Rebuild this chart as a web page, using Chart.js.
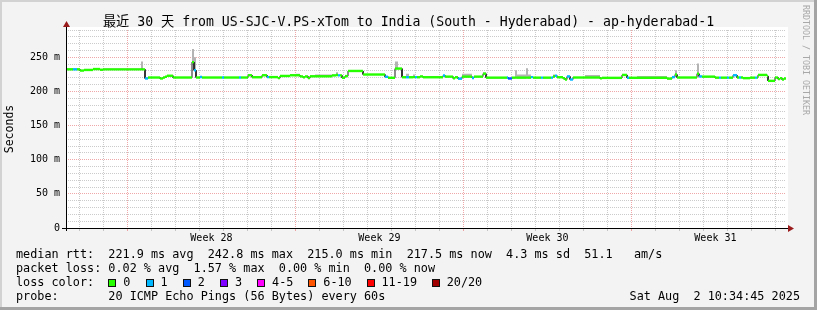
<!DOCTYPE html>
<html>
<head>
<meta charset="utf-8">
<script src="https://cdn.jsdelivr.net/npm/chart.js@4.4.1/dist/chart.umd.min.js"></script>
<style>
  html, body { margin: 0; padding: 0; background: #f3f3f3; }
  #wrap { position: relative; width: 817px; height: 310px; overflow: hidden; font-family: "DejaVu Sans Mono", monospace; color: #000; }
  canvas { position: absolute; left: 0; top: 0; }
  .row { position: absolute; left: 16px; white-space: pre; font-size: 11.8px; line-height: 14px; }
  #title { position: absolute; left: 0; width: 817px; top: 14px; text-align: center; white-space: pre; font-size: 13.2px; line-height: 16px; font-family: "DejaVu Sans Mono", "Noto Sans CJK SC", monospace; }
  #brand { position: absolute; left: 801px; top: 5px; writing-mode: vertical-rl; font-size: 8.3px; line-height: 10px; color: #a8a8a8; white-space: pre; }
  #stamp { position: absolute; right: 17px; top: 289px; white-space: pre; font-size: 11.8px; line-height: 14px; }
  .lbox { position: absolute; width: 6px; height: 6px; border: 1px solid #111; }
  .ltxt { position: absolute; white-space: pre; font-size: 11.8px; line-height: 14px; }
</style>
</head>
<body>
<div id="wrap">
  <canvas id="c" width="817" height="310"></canvas>
  <div id="title"></div>
  <div id="brand">RRDTOOL / TOBI OETIKER</div>
  <div class="row" id="r1" style="top:247px"></div>
  <div class="row" id="r2" style="top:261px"></div>
  <div class="row" id="r3" style="top:275px">loss color:</div>
  <div class="row" id="r4" style="top:289px"></div>
  <div id="stamp"></div>
</div>
<script>
// 30 days ending Sat Aug 2 10:34:45 2025, x in hours from start
const SPAN_HRS = 720;
const titleText = '最近 30 天 from US-SJC-V.PS-xTom to India (South - Hyderabad) - ap-hyderabad-1';

// week labels sit mid-week; weeks begin Sundays 00:00
const weekLabels = ['Week 28', 'Week 29', 'Week 30', 'Week 31'];
const weekStartHrs = [61.42, 229.42, 397.42, 565.42];
const firstMidnightHr = 13.42;

// median rtt (ms), step segments
const segStartHrs = [
  0, 7, 11, 14, 18, 27, 34, 37, 75, 77, 79, 82, 94, 97, 99, 101, 107, 126, 128, 130,
  134, 136, 156, 158, 173, 175, 182, 186, 196, 201, 203, 212, 214, 224, 230, 234, 237, 239, 242, 244,
  249, 266, 270, 272, 274, 276, 279, 282, 297, 319, 322, 329, 332, 336, 340, 343, 347, 349, 351, 354,
  357, 377, 379, 387, 389, 392, 396, 406, 408, 417, 420, 441, 442, 446, 449, 451, 460, 462, 465, 467,
  475, 477, 485, 487, 489, 491, 497, 499, 501, 504, 507, 519, 534, 536, 556, 561, 563, 571, 601, 606,
  609, 611, 631, 633, 636, 649, 653, 655, 661, 663, 667, 671, 673, 675, 677, 684, 689, 691, 692, 701,
  702, 709, 712, 714, 716, 718
];
const medianMs = [
  232.4, 232.4, 232.4, 230.6, 231.5, 232.8, 231.8, 232.4, 232.4, 232.4, 219, 220.4, 219, 220.4, 221.5, 223, 220.4, 243, 231, 220.4,
  221.2, 220.4, 220.4, 220.4, 220.4, 220.4, 223.7, 220.8, 223.7, 221, 221, 219.5, 222.7, 223.7, 223.7, 222, 220.8, 222, 219.5, 222.2,
  222.2, 223.5, 224, 223.5, 223.5, 220, 222.5, 230, 224.8, 221.5, 220, 233.5, 233.5, 220.8, 220.8, 220.8, 221, 221, 220.8, 222,
  220.8, 223.3, 221.7, 219.3, 220.8, 218.7, 221.7, 219.8, 221.7, 226, 220.2, 220.5, 219, 220.2, 220.2, 220.2, 220.2, 220.2, 221, 220.2,
  220.2, 220.2, 220.2, 222, 223, 220.8, 219.3, 217.5, 222, 217.5, 220.4, 220.4, 219.2, 219.9, 224.2, 220, 220, 220, 218.8, 221,
  224.8, 220.4, 226, 222, 221.7, 220.2, 220.2, 220.2, 220.2, 220.2, 223.7, 220.4, 220.4, 220.4, 219.5, 220.2, 220.2, 220.4, 224.2, 222.7,
  215.5, 220.4, 218, 219.5, 217.5, 219
];
// lost pings (of 20) per segment
const lossPings = [
  0, 1, 0, 0, 0, 0, 0, 0, 0, 0, 1, 0, 0, 0, 0, 0, 0, 0, 1, 0,
  1, 0, 1, 0, 1, 0, 0, 0, 0, 1, 0, 0, 0, 0, 0, 0, 0, 0, 0, 0,
  0, 0, 0, 1, 0, 0, 0, 0, 0, 1, 0, 0, 0, 0, 1, 0, 0, 1, 0, 0,
  0, 1, 0, 0, 0, 1, 0, 1, 0, 0, 0, 1, 2, 0, 0, 0, 0, 0, 1, 0,
  1, 0, 1, 0, 1, 0, 0, 0, 1, 1, 0, 0, 0, 0, 0, 1, 0, 0, 0, 1,
  0, 0, 0, 1, 0, 0, 1, 0, 1, 0, 1, 0, 1, 0, 0, 0, 1, 0, 0, 0,
  0, 0, 0, 0, 0, 0
];
// top of the smoke (max rtt) where it shows above the median
const smokeMs = {75: 244, 126: 262, 128: 250, 230: 226, 249: 225, 270: 228, 329: 244, 340: 226, 347: 225,
  396: 226, 417: 228, 449: 231, 451: 224.7, 460: 234, 462: 224.7, 487: 225, 519: 224, 571: 222.8, 609: 231, 631: 241};

const lossLabels = ['0', '1', '2', '3', '4-5', '6-10', '11-19', '20/20'];
const lossColors = ['#26ff00', '#00b8ff', '#0059ff', '#7e00ff', '#ff00ff', '#ff5500', '#ff0000', '#a10000'];
const lossFloor = [0, 1, 2, 3, 4, 6, 11, 20];

const rttStats = ['221.9 ms avg', '242.8 ms max', '215.0 ms min', '217.5 ms now', '4.3 ms sd', '51.1   am/s'];
const lossStats = ['0.02 % avg', '1.57 % max', '0.00 % min', '0.00 % now'];
const probeText = '20 ICMP Echo Pings (56 Bytes) every 60s';
const stampText = 'Sat Aug  2 10:34:45 2025';

const MONO = '"DejaVu Sans Mono", monospace';

function lossColor(n) {
  let k = 0;
  lossFloor.forEach((f, i) => { if (n >= f) k = i; });
  return lossColors[k];
}

// each segment becomes two points so the steps are plain line segments
const medPts = [], smokePts = [];
segStartHrs.forEach((a, i) => {
  const b = i + 1 < segStartHrs.length ? segStartHrs[i + 1] : SPAN_HRS;
  const top = smokeMs[a] !== undefined ? smokeMs[a] : medianMs[i];
  medPts.push({x: a, y: medianMs[i]}, {x: b, y: medianMs[i]});
  smokePts.push({x: a, y: top}, {x: b, y: top});
});

const xTicks = [];
for (let h = firstMidnightHr; h < SPAN_HRS; h += 24) xTicks.push(h);
weekStartHrs.forEach(w => xTicks.push(w + 84));
xTicks.sort((a, b) => a - b);

const near = (a, b) => Math.abs(a - b) < 0.01;
const isWeekMid = v => weekStartHrs.some(w => near(v, w + 84));
const isWeekStart = v => weekStartHrs.some(w => near(v, w));
const MINOR = 'rgba(140,140,140,0.45)';
const MAJOR = 'rgba(225,80,80,0.5)';

const frame = {
  id: 'frame',
  beforeDraw(c) {
    const g = c.ctx, a = c.chartArea;
    g.save();
    g.fillStyle = '#f3f3f3';
    g.fillRect(0, 0, c.width, c.height);
    g.fillStyle = '#ffffff';
    g.fillRect(a.left, a.top - 3, a.right - a.left + 2, a.bottom - a.top + 3);
    g.fillStyle = '#d2d2d2';
    g.fillRect(0, 0, c.width, 2);
    g.fillRect(0, 0, 2, c.height);
    g.fillStyle = '#a4a4a4';
    g.fillRect(0, c.height - 3, c.width, 3);
    g.fillRect(c.width - 3, 0, 3, c.height);
    g.restore();
  },
  afterDraw(c) {
    const g = c.ctx, a = c.chartArea;
    g.save();
    g.strokeStyle = '#000';
    g.lineWidth = 1;
    g.beginPath();
    g.moveTo(a.left - 4, a.bottom + 0.5); g.lineTo(a.right + 2, a.bottom + 0.5);
    g.moveTo(a.left + 0.5, a.bottom + 3); g.lineTo(a.left + 0.5, a.top - 5);
    g.stroke();
    g.fillStyle = '#9b1c1c';
    g.beginPath();
    g.moveTo(a.right + 8, a.bottom + 0.5); g.lineTo(a.right + 2, a.bottom - 3); g.lineTo(a.right + 2, a.bottom + 4);
    g.closePath(); g.fill();
    g.beginPath();
    g.moveTo(a.left + 0.5, a.top - 9); g.lineTo(a.left - 3, a.top - 3); g.lineTo(a.left + 4, a.top - 3);
    g.closePath(); g.fill();
    g.restore();
  }
};

new Chart(document.getElementById('c'), {
  type: 'line',
  data: {
    datasets: [
      {
        label: 'median', data: medPts, order: 1, borderWidth: 2.4, pointRadius: 0, borderCapStyle: 'butt',
        borderColor: lossColors[0],
        segment: {
          borderColor: ctx => ctx.p0DataIndex % 2 ? 'rgba(0,0,0,0)' : lossColor(lossPings[ctx.p0DataIndex >> 1])
        }
      },
      { label: 'median base', data: medPts, order: 2, borderWidth: 1, pointRadius: 0, borderColor: '#1a1a1a' },
      { label: 'smoke', data: smokePts, order: 3, borderWidth: 0, pointRadius: 0, borderColor: 'rgba(0,0,0,0)',
        backgroundColor: '#b4b4b4', fill: 1 }
    ]
  },
  options: {
    responsive: false,
    animation: false,
    events: [],
    layout: { padding: { left: 0, right: 31, top: 30, bottom: 0 } },
    plugins: { legend: { display: false }, tooltip: { enabled: false } },
    scales: {
      x: {
        type: 'linear', min: 0, max: SPAN_HRS,
        afterBuildTicks: ax => { ax.ticks = xTicks.map(v => ({ value: v })); },
        afterFit: s => { s.height = 82; },
        ticks: {
          autoSkip: false, maxRotation: 0, padding: 1, color: '#000',
          font: { family: MONO, size: 10 },
          callback: v => {
            const i = weekStartHrs.findIndex(w => near(v, w + 84));
            return i >= 0 ? weekLabels[i] : '';
          }
        },
        grid: {
          drawTicks: true, tickLength: 3, lineWidth: 1,
          color: ctx => isWeekMid(ctx.tick.value) ? 'rgba(0,0,0,0)' : (isWeekStart(ctx.tick.value) ? MAJOR : MINOR),
          tickColor: ctx => isWeekMid(ctx.tick.value) ? 'rgba(0,0,0,0)' : (isWeekStart(ctx.tick.value) ? MAJOR : MINOR)
        },
        border: { display: false, dash: [1, 1] }
      },
      y: {
        min: 0, max: 290,
        afterBuildTicks: ax => { const t = []; for (let v = 0; v <= 290; v += 10) t.push({ value: v }); ax.ticks = t; },
        afterFit: s => { s.width = 66; },
        ticks: {
          autoSkip: false, padding: 6, color: '#000',
          font: { family: MONO, size: 10 },
          callback: v => v % 50 === 0 ? (v === 0 ? '0' : v + ' m') : ''
        },
        grid: {
          drawTicks: false, lineWidth: 1,
          color: ctx => ctx.tick.value === 0 ? 'rgba(0,0,0,0)' : (ctx.tick.value % 50 === 0 ? MAJOR : MINOR)
        },
        border: { display: false, dash: [1, 1] },
        title: { display: true, text: 'Seconds', color: '#000', font: { family: MONO, size: 11.5 }, padding: { top: 3, bottom: 0 } }
      }
    }
  },
  plugins: [frame]
});

// text legend under the graph
document.getElementById('title').textContent = titleText;
document.getElementById('r1').textContent = 'median rtt:  ' + rttStats.join('  ');
document.getElementById('r2').textContent = 'packet loss: ' + lossStats.join('  ');
document.getElementById('r4').textContent = 'probe:       ' + probeText;
document.getElementById('stamp').textContent = stampText;

const wrap = document.getElementById('wrap');
let bx = 108.3;
lossLabels.forEach((lab, i) => {
  const b = document.createElement('div');
  b.className = 'lbox';
  b.style.left = bx + 'px';
  b.style.top = '279px';
  b.style.background = lossColors[i];
  wrap.appendChild(b);
  const t = document.createElement('div');
  t.className = 'ltxt';
  t.style.left = (bx + 15) + 'px';
  t.style.top = '275px';
  t.textContent = lab;
  wrap.appendChild(t);
  bx += 15 + lab.length * 7.0 + 15.2;
});
</script>
</body>
</html>
